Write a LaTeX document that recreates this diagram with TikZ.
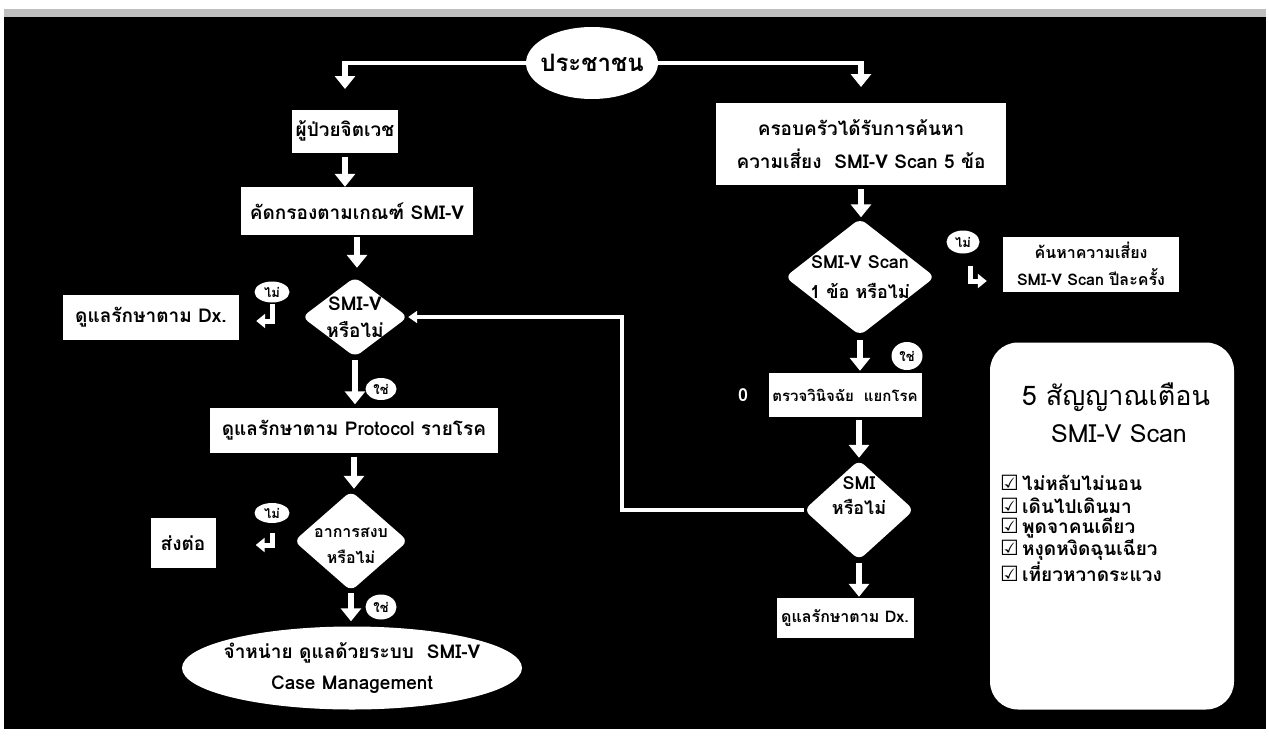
\documentclass[tikz,border=0pt]{standalone}
\usepackage{fontspec}
\setmainfont{Loma}[Script=Thai]
\newfontfamily\thai{Loma}[Script=Thai]
\newfontfamily\symf{DejaVu Sans}
\usetikzlibrary{arrows.meta,shapes.geometric,calc}

\tikzset{
  box/.style={fill=white, inner sep=0pt, align=center, text=black,
    font=\thai\bfseries\fontsize{19}{26}\selectfont},
  smallbox/.style={box, font=\thai\bfseries\fontsize{16}{27}\selectfont},
  dia/.style={diamond, fill=white, rounded corners=7pt, inner sep=0pt},
  ell/.style={ellipse, fill=white, inner sep=0pt},
  ftxt/.style={inner sep=0pt, align=center, text=black,
    font=\thai\bfseries\fontsize{19}{27}\selectfont},
  tag/.style={ellipse, fill=white, inner sep=0pt, text=black,
    font=\thai\bfseries\fontsize{13}{14}\selectfont},
  blk/.style={white, line width=6pt, -{Triangle[width=20pt,length=13pt]}},
  blks/.style={white, line width=5pt, -{Triangle[width=14pt,length=9pt]}},
  lnk/.style={white, line width=3.5pt},
  chk/.style={anchor=west, inner sep=0pt, text=black,
    font=\thai\bfseries\fontsize{19}{21}\selectfont},
}
\newcommand{\tickbox}{{\symf\fontsize{21}{21}\selectfont ☑}\,}

\begin{document}
\begin{tikzpicture}[x=1pt,y=-1pt]
\useasboundingbox (0,0) rectangle (1269,739);
% page and dark panel
\fill[white] (0,0) rectangle (1269,739);
\fill[black] (4,9) rectangle (1266,729);
\fill[gray!50] (4,9) rectangle (1266,17);

% ---------- start ----------
\node[ell, minimum width=132pt, minimum height=72pt,
  label={[ftxt, font=\thai\bfseries\fontsize{24}{28}\selectfont]center:ประชาชน}] (p) at (592,63) {};

% ---------- left column ----------
\node[box, minimum width=106pt, minimum height=43pt] (a1) at (345,131) {ผู้ป่วยจิตเวช};
\node[box, minimum width=232pt, minimum height=48pt] (a2) at (357,211) {คัดกรองตามเกณฑ์ SMI-V};
\node[dia, minimum width=106pt, minimum height=80pt,
  label={[ftxt]center:{SMI-V\\หรือไม่}}] (d1) at (355,317) {};
\node[box, minimum width=176pt, minimum height=45pt] (dx1) at (151,317) {ดูแลรักษาตาม Dx.};
\node[box, minimum width=288pt, minimum height=45pt] (a3) at (354,430) {ดูแลรักษาตาม Protocol รายโรค};
\node[dia, minimum width=114pt, minimum height=100pt,
  label={[ftxt, yshift=-5pt, font=\thai\bfseries\fontsize{16}{26}\selectfont]center:{อาการสงบ\\หรือไม่}}] (d2) at (351,541) {};
\node[box, minimum width=65pt, minimum height=50pt] (send) at (183,543) {ส่งต่อ};
\node[ell, minimum width=340pt, minimum height=83pt,
  label={[ftxt, font=\thai\bfseries\fontsize{19}{31}\selectfont]center:{จำหน่าย ดูแลด้วยระบบ~~SMI-V\\Case Management}}] (dis) at (352,668) {};

% ---------- right column ----------
\node[box, minimum width=290pt, minimum height=82pt,
  font=\thai\bfseries\fontsize{19}{33}\selectfont] (b1) at (861,144)
  {ครอบครัวได้รับการค้นหา\\ความเสี่ยง~~SMI-V Scan 5 ข้อ};
\node[dia, minimum width=150pt, minimum height=117pt,
  label={[ftxt, font=\thai\bfseries\fontsize{18}{30}\selectfont]center:{SMI-V Scan\\1 ข้อ หรือไม่}}] (d3) at (860,277) {};
\node[smallbox, minimum width=176pt, minimum height=55pt] (yr) at (1091,264)
  {ค้นหาความเสี่ยง\\SMI-V Scan ปีละครั้ง};
\node[box, minimum width=153pt, minimum height=44pt,
  font=\thai\bfseries\fontsize{15}{20}\selectfont] (b2) at (845,395) {ตรวจวินิจฉัย~~แยกโรค};
\node[text=white, inner sep=0pt, font=\thai\bfseries\fontsize{18}{20}\selectfont] (zero) at (743,395) {0};
\node[dia, minimum width=110pt, minimum height=100pt] (d4) at (859,510) {};
\node[ftxt, font=\thai\bfseries\fontsize{18}{25}\selectfont] (d4t) at (859,496) {SMI\\หรือไม่};
\node[smallbox, minimum width=137pt, minimum height=40pt] (dx2) at (845,618) {ดูแลรักษาตาม Dx.};

% ---------- warning-sign panel ----------
\node[fill=white, rounded corners=28pt, minimum width=244pt, minimum height=367pt,
  inner sep=0pt] (pn) at (1112,526) {};
\node[inner sep=0pt, text=black, font=\thai\fontsize{27}{30}\selectfont] (pt1) at (1116,397) {5 สัญญาณเตือน};
\node[inner sep=0pt, text=black, font=\thai\fontsize{25}{30}\selectfont] (pt2) at (1119,434) {SMI-V Scan};
\node[chk] (c1) at (1000,483) {\tickbox ไม่หลับไม่นอน};
\node[chk] (c2) at (1000,506) {\tickbox เดินไปเดินมา};
\node[chk] (c3) at (1000,528) {\tickbox พูดจาคนเดียว};
\node[chk] (c4) at (1000,550) {\tickbox หงุดหงิดฉุนเฉียว};
\node[chk] (c5) at (1000,572) {\tickbox เที่ยวหวาดระแวง};

% ---------- yes / no tags ----------
\node[tag, minimum width=35pt, minimum height=21pt] (t1) at (272,292) {ไม่};
\node[tag, minimum width=31pt, minimum height=22pt] (t2) at (381,389) {ใช่};
\node[tag, minimum width=35pt, minimum height=20pt] (t3) at (272,513) {ไม่};
\node[tag, minimum width=31pt, minimum height=25pt] (t4) at (381,607) {ใช่};
\node[tag, minimum width=33pt, minimum height=23pt] (t5) at (963,242) {ไม่};
\node[tag, minimum width=31pt, minimum height=28pt] (t6) at (907,356) {ใช่};

% ---------- connectors ----------
\draw[lnk] (p.west) -- (p.west -| a1.north);
\draw[blk] ([yshift=2pt]p.west -| a1.north) -- ++(0,28);
\draw[lnk] (p.east) -- (p.east -| b1.north);
\draw[blk] ([yshift=2pt]p.east -| b1.north) -- ++(0,26);

\draw[blk] ([yshift=-4pt]a1.south) -- (a1.south |- a2.north);
\draw[blk, shorten >=9pt] ([yshift=-2pt]a2.south) -- (a2.south |- d1.north);
\draw[blk, shorten <=3pt, shorten >=3pt] (d1.south) -- (d1.south |- a3.north);
\draw[blk, shorten <=4pt, shorten >=2pt] (a3.south) -- (a3.south |- d2.north);
\draw[blk, shorten <=2pt, shorten >=5pt] (d2.south) -- (d2.south |- dis.north);
\draw[blks] ($(d1.west)+(-29,-13)$) |- ($(dx1.east)+(17,4)$);
\draw[blks] ($(d2.west)+(-21,-8)$) |- ($(send.east)+(40,2)$);

\draw[blk, shorten <=4pt, shorten >=1pt] (b1.south) -- (b1.south |- d3.north);
\draw[blk, shorten <=4pt, shorten >=2pt] (d3.south) -- (d3.south |- b2.north);
\draw[blk, shorten <=3pt, shorten >=2pt] (b2.south -| d4.north) -- (d4.north);
\draw[blk, shorten <=3pt, shorten >=1pt] (d4.south) -- (d4.south |- dx2.north);
\draw[blks] ($(d3.east)+(35,-11)$) |- ($(yr.west)+(-16,17)$);

% return path from the SMI decision to the SMI-V decision
\coordinate (lx) at (622,0);
\draw[lnk, -{Triangle[width=12pt,length=9pt]}] (d4.west) -- (d4.west -| lx) |- (d1.east);
\end{tikzpicture}
\end{document}
